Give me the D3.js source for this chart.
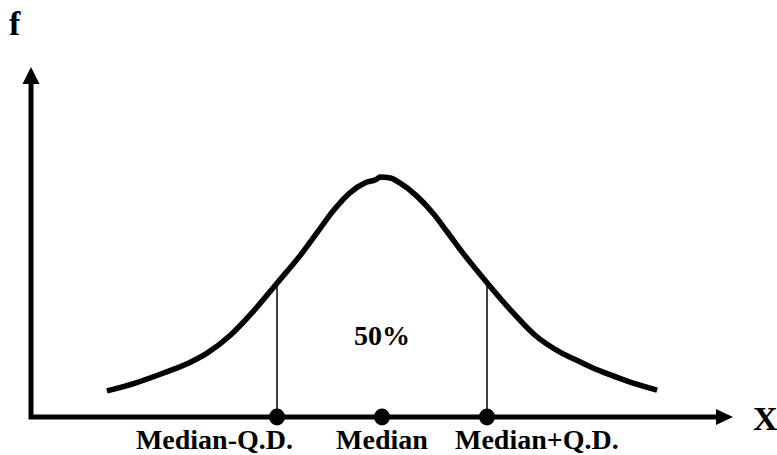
<!DOCTYPE html>
<html>
<head>
<meta charset="utf-8">
<script src="https://cdn.jsdelivr.net/npm/d3@7"></script>
<style>
  html, body { margin: 0; padding: 0; background: #fff; }
  svg { display: block; }
  text { font-family: "Times New Roman", "Liberation Serif", serif; font-weight: bold; fill: #000; }
</style>
</head>
<body>
<div id="chart"></div>
<script>
// Curve sample points: position in units of Q.D. from the median, relative frequency
const curveU = [-2.62, -2.35, -2.08, -1.83, -1.67, -1.45, -1.23, -0.99, -0.78, -0.62, -0.47, -0.30, -0.16, -0.05, -0.02, 0.08, 0.17, 0.33, 0.49, 0.62, 0.79, 1.00, 1.23, 1.45, 1.70, 1.86, 2.01, 2.17, 2.33, 2.62];
const curveF = [0.109, 0.142, 0.184, 0.228, 0.266, 0.340, 0.440, 0.565, 0.675, 0.770, 0.860, 0.940, 0.980, 0.995, 1.004, 1.000, 0.979, 0.925, 0.850, 0.775, 0.675, 0.562, 0.445, 0.345, 0.270, 0.236, 0.205, 0.177, 0.151, 0.112];

// Marked points on the X axis
const markLabels = ["Median-Q.D.", "Median", "Median+Q.D."];
const markU = [-1, 0, 1];
const markF = [0.561, null, 0.561];   // height of the vertical line up to the curve
const areaLabel = "50%";
const xAxisLabel = "X";
const yAxisLabel = "f";

const W = 777, H = 455;
const svg = d3.select("#chart").append("svg").attr("width", W).attr("height", H);

const x = d3.scaleLinear().domain([-3.343, 3.343]).range([31, 733]);
const y = d3.scaleLinear().domain([0, 1.464]).range([417, 67]);

// Axes
const axisW = 5;
svg.append("path")
  .attr("d", `M${x(-3.343)},${y(1.464) + 16} L${x(-3.343)},${y(0)} L${x(3.343) - 17},${y(0)}`)
  .attr("fill", "none").attr("stroke", "#000").attr("stroke-width", axisW)
  .attr("stroke-linejoin", "miter").attr("stroke-linecap", "square");
// y arrowhead
svg.append("path")
  .attr("d", `M${x(-3.343)},${y(1.464)} L${x(-3.343) + 8.5},${y(1.464) + 17} L${x(-3.343) - 8.5},${y(1.464) + 17} Z`)
  .attr("fill", "#000");
// x arrowhead
svg.append("path")
  .attr("d", `M${x(3.343)},${y(0)} L${x(3.343) - 17},${y(0) - 8} L${x(3.343) - 17},${y(0) + 8} Z`)
  .attr("fill", "#000");

// Curve
const pts = curveU.map((u, i) => [u, curveF[i]]);
const line = d3.line().x(d => x(d[0])).y(d => y(d[1])).curve(d3.curveMonotoneX);
svg.append("path").datum(pts).attr("d", line)
  .attr("fill", "none").attr("stroke", "#000").attr("stroke-width", 5.5)
  .attr("stroke-linecap", "butt").attr("stroke-linejoin", "round");

// Vertical lines
markU.forEach((u, i) => {
  if (markF[i] == null) return;
  svg.append("line")
    .attr("x1", x(u)).attr("x2", x(u))
    .attr("y1", y(0)).attr("y2", y(markF[i]))
    .attr("stroke", "#000").attr("stroke-width", 1.5);
});

// Dots
svg.selectAll("ellipse.dot").data(markU).enter().append("ellipse")
  .attr("class", "dot")
  .attr("cx", d => x(d)).attr("cy", y(0))
  .attr("rx", 8).attr("ry", 8.5).attr("fill", "#000");

// Labels under axis
const anchors = ["end", "middle", "start"];
const offsets = [16, 0, -32];
markLabels.forEach((t, i) => {
  svg.append("text")
    .attr("x", x(markU[i]) + offsets[i]).attr("y", 449)
    .attr("text-anchor", anchors[i])
    .attr("font-size", 28)
    .text(t);
});

// 50% label
svg.append("text").attr("x", x(0)).attr("y", 345)
  .attr("text-anchor", "middle").attr("font-size", 28).text(areaLabel);

// Axis labels
svg.append("text").attr("x", 753).attr("y", 430).attr("font-size", 34).text(xAxisLabel);
svg.append("text").attr("x", 9).attr("y", 35).attr("font-size", 34).text(yAxisLabel);
</script>
</body>
</html>
